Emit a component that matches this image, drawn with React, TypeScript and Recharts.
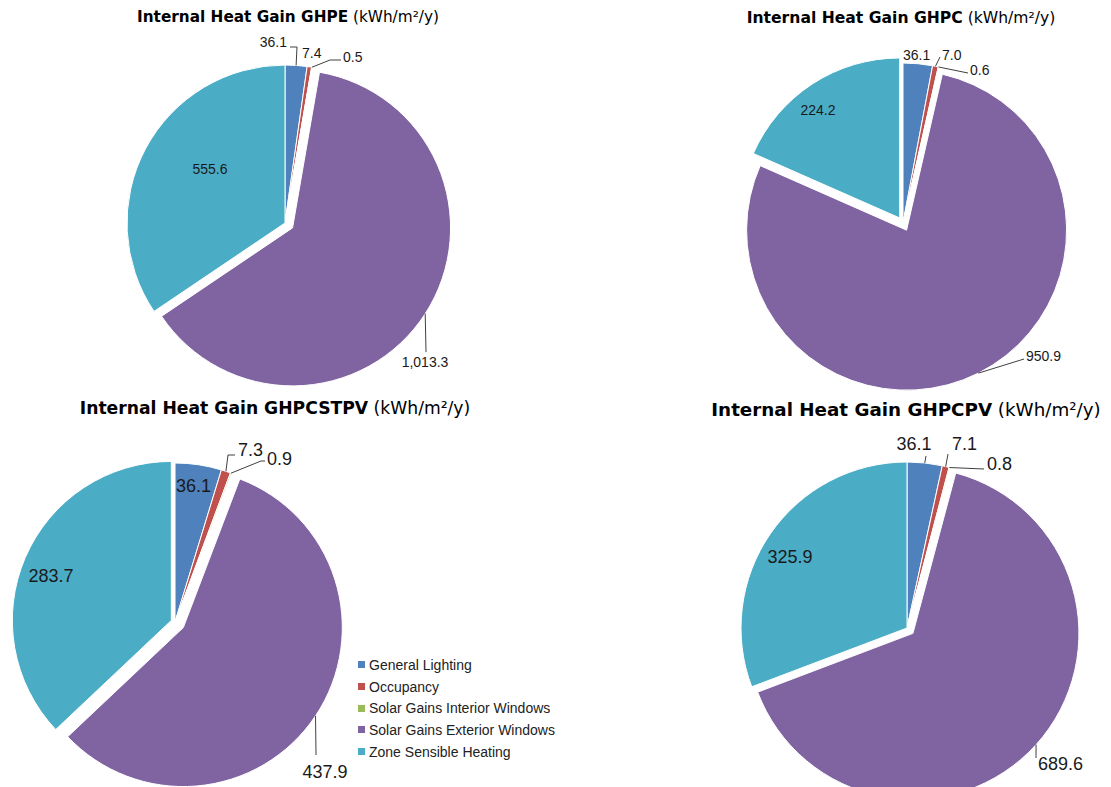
import { PieChart, Pie, Cell, Legend } from 'recharts';

const categories = [
  'General Lighting',
  'Occupancy',
  'Solar Gains Interior Windows',
  'Solar Gains Exterior Windows',
  'Zone Sensible Heating',
];
const colors = ['#4F81BD', '#C0504D', '#9BBB59', '#8064A2', '#4BACC6'];

const ghpeValues = [36.1, 7.4, 0.5, 1013.3, 555.6];
const ghpcValues = [36.1, 7.0, 0.6, 950.9, 224.2];
const ghpcstpvValues = [36.1, 7.3, 0.9, 437.9, 283.7];
const ghpcpvValues = [36.1, 7.1, 0.8, 689.6, 325.9];

type LabelCfg = { dx: number; dy: number; anchor?: 'start' | 'middle' | 'end'; line?: [number, number][] };

type Panel = {
  key: string;
  name: string;
  values: number[];
  cx: number;
  cy: number;
  r: number;
  explode: number[];
  titleX: number;
  titleY: number;
  titleSize: number;
  labelSize: number;
  labels: LabelCfg[];
};

const panels: Panel[] = [
  {
    key: 'ghpe',
    name: 'GHPE',
    values: ghpeValues,
    cx: 285,
    cy: 223,
    r: 158,
    explode: [0, 0, 0, 9, 0],
    titleX: 288,
    titleY: 17,
    titleSize: 15.3,
    labelSize: 14,
    labels: [
      { dx: 2, dy: -176, anchor: 'end', line: [[12, -176], [5, -176]] },
      { dx: 17, dy: -165 },
      { dx: 58, dy: -161, line: [[45, -163], [56, -163]] },
      { dx: 140, dy: 144, anchor: 'middle', line: [[141, 129]] },
      { dx: -75, dy: -49, anchor: 'middle' },
    ],
  },
  {
    key: 'ghpc',
    name: 'GHPC',
    values: ghpcValues,
    cx: 903,
    cy: 223,
    r: 160,
    explode: [0, 0, 0, 8, 6],
    titleX: 901,
    titleY: 18,
    titleSize: 15.6,
    labelSize: 14,
    labels: [
      { dx: 0, dy: -163 },
      { dx: 39, dy: -163, line: [[37, -166]] },
      { dx: 67, dy: -148, line: [[65, -150]] },
      { dx: 123, dy: 138, line: [[121, 136]] },
      { dx: -85, dy: -108, anchor: 'middle' },
    ],
  },
  {
    key: 'ghpcstpv',
    name: 'GHPCSTPV',
    values: ghpcstpvValues,
    cx: 175,
    cy: 622,
    r: 159,
    explode: [0, 0, 0, 10, 4],
    titleX: 275,
    titleY: 408,
    titleSize: 17.2,
    labelSize: 18,
    labels: [
      { dx: 1, dy: -130 },
      { dx: 63, dy: -166, line: [[53, -167], [60, -167]] },
      { dx: 92, dy: -157, line: [[86, -161], [90, -161]] },
      { dx: 150, dy: 156, anchor: 'middle', line: [[141, 133]] },
      { dx: -124, dy: -40, anchor: 'middle' },
    ],
  },
  {
    key: 'ghpcpv',
    name: 'GHPCPV',
    values: ghpcpvValues,
    cx: 907,
    cy: 628,
    r: 166,
    explode: [0, 0, 0, 8, 0],
    titleX: 906,
    titleY: 410,
    titleSize: 18.3,
    labelSize: 18,
    labels: [
      { dx: 7, dy: -178, anchor: 'middle', line: [[19, -172]] },
      { dx: 45, dy: -178, line: [[41, -174]] },
      { dx: 80, dy: -158, line: [[77, -159]] },
      { dx: 131, dy: 142, line: [[129, 130]] },
      { dx: -117, dy: -65, anchor: 'middle' },
    ],
  },
];

const fmt = (v: number) => v.toLocaleString('en-US', { minimumFractionDigits: 1, maximumFractionDigits: 1 });

// shift of an exploded slice along its middle direction (clockwise from 12 o'clock)
function explodeOffset(values: number[], i: number, d: number): [number, number] {
  if (!d) return [0, 0];
  const total = values.reduce((a, b) => a + b, 0);
  const before = values.slice(0, i).reduce((a, b) => a + b, 0);
  const mid = ((before + values[i] / 2) / total) * 2 * Math.PI;
  return [d * Math.sin(mid), -d * Math.cos(mid)];
}

const makeLabel = (p: Panel) => (props: any) => {
  const { cx, cy, midAngle, outerRadius, index, value } = props;
  const cfg = p.labels[index];
  const [ox, oy] = explodeOffset(p.values, index, p.explode[index]);
  const rad = Math.PI / 180;
  const ex = cx + ox + outerRadius * Math.cos(-midAngle * rad);
  const ey = cy + oy + outerRadius * Math.sin(-midAngle * rad);
  const pts = cfg.line ? [[ex, ey], ...cfg.line.map(([x, y]) => [cx + x, cy + y])] : null;
  return (
    <g key={`${p.key}-lbl-${index}`}>
      {pts && (
        <polyline points={pts.map((q) => q.join(',')).join(' ')} fill="none" stroke="#404040" strokeWidth={1} />
      )}
      <text
        x={cx + cfg.dx}
        y={cy + cfg.dy}
        textAnchor={cfg.anchor ?? 'start'}
        fontSize={p.labelSize}
        fontFamily="'Liberation Sans', Arial, sans-serif"
        fill="#1a1a1a"
      >
        {fmt(value)}
      </text>
    </g>
  );
};

const LegendBox = () => (
  <div style={{ fontFamily: "'Liberation Sans', Arial, sans-serif", fontSize: 14, color: '#222' }}>
    {categories.map((c, i) => (
      <div key={c} style={{ display: 'flex', alignItems: 'center', height: 21.7 }}>
        <span style={{ width: 7, height: 7, background: colors[i], display: 'inline-block', marginRight: 4 }} />
        <span>{c}</span>
      </div>
    ))}
  </div>
);

export default function App() {
  return (
    <div
      style={{
        position: 'absolute',
        left: 0,
        top: 0,
        width: 1111,
        height: 787,
        background: '#fff',
        overflow: 'hidden',
        fontFamily: "'DejaVu Sans', Verdana, sans-serif",
      }}
    >
      <PieChart width={1111} height={787} margin={{ top: 0, right: 0, bottom: 0, left: 0 }}>
        {panels.map((p) => {
          const data = p.values.map((v, i) => ({ name: categories[i], value: v }));
          return [
            <Pie
              key={`${p.key}-base`}
              data={data}
              dataKey="value"
              nameKey="name"
              cx={p.cx}
              cy={p.cy}
              outerRadius={p.r}
              startAngle={90}
              endAngle={-270}
              isAnimationActive={false}
              labelLine={false}
              label={makeLabel(p)}
            >
              {data.map((d, i) => (
                <Cell
                  key={d.name}
                  fill={p.explode[i] ? 'transparent' : colors[i]}
                  stroke={p.explode[i] ? 'none' : '#fff'}
                  strokeWidth={1}
                />
              ))}
            </Pie>,
            ...p.explode.map((dist, i) => {
              if (!dist) return null;
              const [ox, oy] = explodeOffset(p.values, i, dist);
              return (
                <Pie
                  key={`${p.key}-exp-${i}`}
                  data={data}
                  dataKey="value"
                  nameKey="name"
                  cx={p.cx + ox}
                  cy={p.cy + oy}
                  outerRadius={p.r}
                  startAngle={90}
                  endAngle={-270}
                  isAnimationActive={false}
                  labelLine={false}
                  label={false}
                  legendType="none"
                >
                  {data.map((d, j) => (
                    <Cell
                      key={d.name}
                      fill={j === i ? colors[j] : 'transparent'}
                      stroke={j === i ? '#fff' : 'none'}
                      strokeWidth={1}
                    />
                  ))}
                </Pie>
              );
            }),
          ];
        })}
        <Legend content={() => <LegendBox />} wrapperStyle={{ left: 358, top: 654, width: 240, bottom: 'auto' }} />
      </PieChart>
      {panels.map((p) => (
        <div
          key={`${p.key}-title`}
          style={{
            position: 'absolute',
            left: p.titleX - 300,
            width: 600,
            top: p.titleY - 12,
            height: 24,
            lineHeight: '24px',
            textAlign: 'center',
            fontSize: p.titleSize,
            color: '#000',
            whiteSpace: 'nowrap',
          }}
        >
          <span style={{ fontWeight: 'bold' }}>Internal Heat Gain {p.name}</span> (kWh/m²/y)
        </div>
      ))}
    </div>
  );
}
